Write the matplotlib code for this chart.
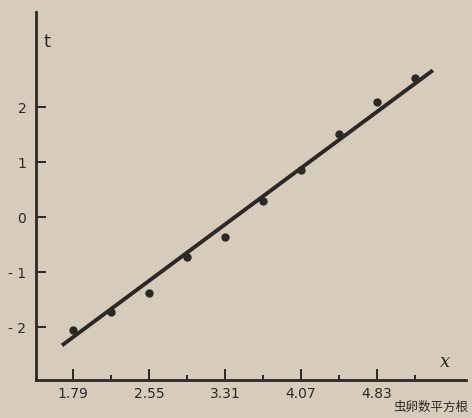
import matplotlib.pyplot as plt

x_pts = [1.79, 2.17, 2.55, 2.93, 3.31, 3.69, 4.07, 4.45, 4.83, 5.21]
t_pts = [-2.05, -1.73, -1.38, -0.73, -0.36, 0.29, 0.85, 1.51, 2.09, 2.53]

# fitted straight line, drawn between its two ends
line_x = [1.68, 5.39]
line_t = [-2.33, 2.67]

major_x = [1.79, 2.55, 3.31, 4.07, 4.83]
minor_x = [2.17, 2.93, 3.69, 4.45, 5.21]
y_ticks = [-2, -1, 0, 1, 2]

paper = '#d7ccbc'
ink = '#2b2926'

fig = plt.figure(figsize=(4.72, 4.18), dpi=100, facecolor=paper)
ax = fig.add_axes([0.0763, 0.0909, 0.9107, 0.8804], facecolor=paper)

ax.plot(line_x, line_t, color=ink, lw=2.8, solid_capstyle='butt')
ax.plot(x_pts, t_pts, 'o', color=ink, ms=5)

ax.set_xlim(1.42, 5.72)
ax.set_ylim(-2.96, 3.73)

ax.spines['top'].set_visible(False)
ax.spines['right'].set_visible(False)
for s in ['left', 'bottom']:
    ax.spines[s].set_linewidth(2.0)
    ax.spines[s].set_color(ink)

ax.set_xticks(major_x)
ax.set_xticklabels([f'{v:.2f}' for v in major_x])
ax.set_xticks(minor_x, minor=True)
ax.set_yticks(y_ticks)
ax.set_yticklabels(['- 2', '- 1', '0', '1', '2'])

ax.tick_params(axis='x', which='major', direction='in', length=8, width=1.4,
               color=ink, labelcolor=ink, labelsize=10, pad=5)
ax.tick_params(axis='x', which='minor', direction='in', length=3.5, width=1.4, color=ink)
ax.tick_params(axis='y', direction='in', length=7, width=1.4,
               color=ink, labelcolor=ink, labelsize=10, pad=7)

ax.text(0.026, 0.918, 't', transform=ax.transAxes, fontsize=13, color=ink,
        ha='center', va='center')
ax.text(0.94, 0.035, 'x', transform=ax.transAxes, fontsize=13, color=ink,
        style='italic', family='DejaVu Serif')
fig.text(0.992, 0.01, '虫卵数平方根', ha='right', va='bottom', fontsize=9,
         color=ink, family=['Noto Sans CJK SC', 'DejaVu Sans'])

fig.savefig('out.png', dpi=100, facecolor=paper)
